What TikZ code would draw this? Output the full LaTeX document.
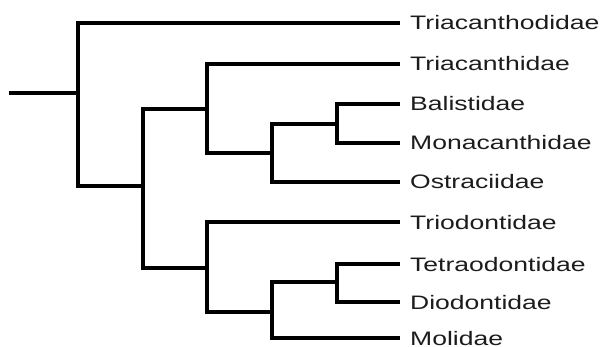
\documentclass[tikz,border=0pt]{standalone}
\usepackage{fontspec}
\usepackage{graphicx}
\setmainfont{Liberation Sans}
\definecolor{txt}{HTML}{1C1C1C}
\tikzset{
  branch/.style={line width=3.5pt, line join=miter, line cap=rect, black},
  vbar/.style={line width=4.8pt, line cap=rect, black},
  leaf/.style={anchor=west, inner xsep=12pt, inner ysep=0pt, text height=14pt, text depth=0pt,
    font=\fontsize{19.5}{20}\selectfont, text=txt},
}
\newcommand{\lbl}[1]{\scalebox{1.36}[1]{#1}}
\begin{document}
\begin{tikzpicture}[x=1pt,y=-1pt]
\useasboundingbox (0,0) rectangle (609,347);
% internal nodes
\coordinate (r) at (11,93);
\coordinate (n0) at (78,93);
\coordinate (n1) at (143,186);
\coordinate (n2) at (207,109);
\coordinate (n3) at (272,153);
\coordinate (n4) at (337,124);
\coordinate (n5) at (207,268);
\coordinate (n6) at (272,312);
\coordinate (n7) at (337,282);
% leaves
\node[leaf] (l1) at (398,23) {\lbl{Triacanthodidae}};
\node[leaf] (l2) at (398,64) {\lbl{Triacanthidae}};
\node[leaf] (l3) at (398,104) {\lbl{Balistidae}};
\node[leaf] (l4) at (398,143) {\lbl{Monacanthidae}};
\node[leaf] (l5) at (398,182) {\lbl{Ostraciidae}};
\node[leaf] (l6) at (398,222) {\lbl{Triodontidae}};
\node[leaf] (l7) at (398,264) {\lbl{Tetraodontidae}};
\node[leaf] (l8) at (398,302) {\lbl{Diodontidae}};
\node[leaf] (l9) at (398,338) {\lbl{Molidae}};
% branches
\draw[branch] (r) -- (n0);
\draw[branch] (n0) |- (l1.west);
\draw[branch] (n0) |- (n1);
\draw[branch] (n1) |- (n2);
\draw[branch] (n1) |- (n5);
\draw[branch] (n2) |- (l2.west);
\draw[branch] (n2) |- (n3);
\draw[branch] (n3) |- (n4);
\draw[branch] (n3) |- (l5.west);
\draw[branch] (n4) |- (l3.west);
\draw[branch] (n4) |- (l4.west);
\draw[branch] (n5) |- (l6.west);
\draw[branch] (n5) |- (n6);
\draw[branch] (n6) |- (n7);
\draw[branch] (n6) |- (l9.west);
\draw[branch] (n7) |- (l7.west);
\draw[branch] (n7) |- (l8.west);
% vertical bars
\draw[vbar] (n0 |- l1.west) -- (n0 |- n1);
\draw[vbar] (n1 |- n2) -- (n1 |- n5);
\draw[vbar] (n2 |- l2.west) -- (n2 |- n3);
\draw[vbar] (n3 |- n4) -- (n3 |- l5.west);
\draw[vbar] (n4 |- l3.west) -- (n4 |- l4.west);
\draw[vbar] (n5 |- l6.west) -- (n5 |- n6);
\draw[vbar] (n6 |- n7) -- (n6 |- l9.west);
\draw[vbar] (n7 |- l7.west) -- (n7 |- l8.west);
\end{tikzpicture}
\end{document}
